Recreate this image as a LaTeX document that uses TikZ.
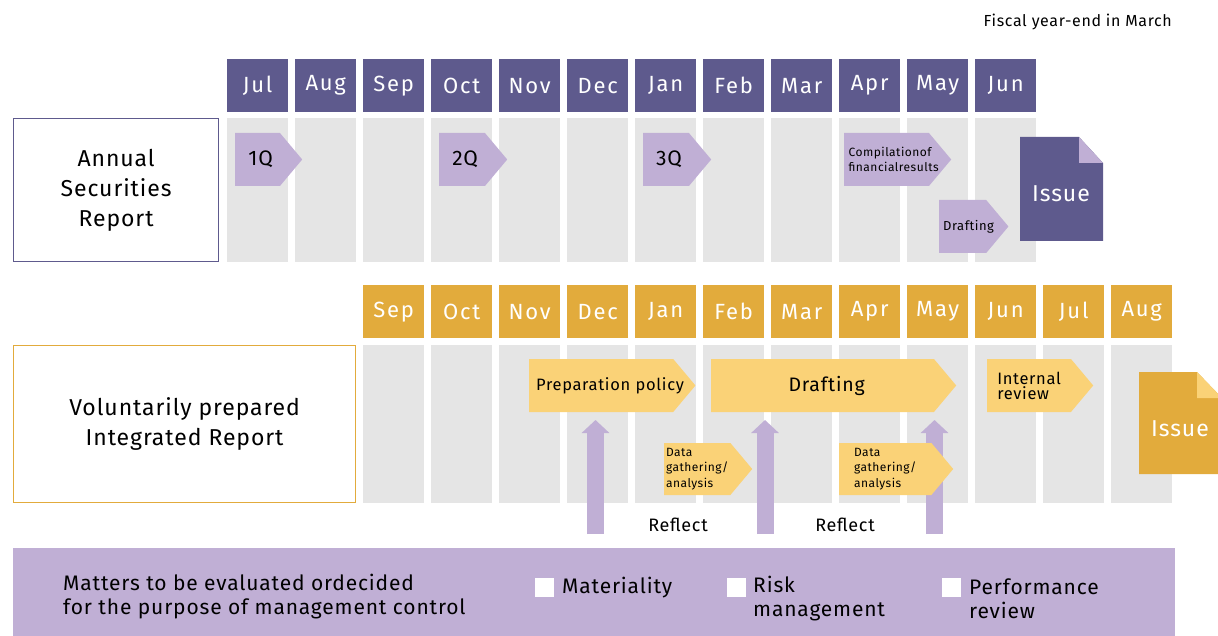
\documentclass[tikz,border=0pt]{standalone}
\usepackage{fontspec}
\setmainfont{Fira Sans}[LetterSpace=4]
\newfontfamily\spacedfont[LetterSpace=8]{Fira Sans}
\usetikzlibrary{shapes.symbols,arrows.meta}

\definecolor{darkpurple}{HTML}{5E5A8D}
\definecolor{lightpurple}{HTML}{C0AFD5}
\definecolor{colgray}{HTML}{E5E5E5}
\definecolor{darkorange}{HTML}{E2AB3C}
\definecolor{lightorange}{HTML}{FAD277}

\begin{document}
\begin{tikzpicture}[x=1pt,y=-1pt,
  month/.style={fill=#1, text=white, minimum width=61pt, minimum height=53pt,
    inner sep=0pt, anchor=north west, font=\spacedfont\fontsize{22}{22}\selectfont},
  stage/.style={signal, signal to=east, signal pointer angle=100, fill=#1,
    inner sep=0pt, minimum height=53pt, anchor=west},
  reflectarrow/.style={lightpurple, line width=17pt,
    -{Triangle[width=27pt,length=13pt]}},
  checkbox/.style={fill=white, minimum size=19pt, inner sep=0pt, anchor=north west},
  bandtext/.style={anchor=west, align=left, inner sep=0pt,
    font=\fontsize{21}{24}\selectfont}]
\useasboundingbox (0,0) rectangle (1218,636);

\node[anchor=east, inner sep=0pt, font=\fontsize{16}{16}\selectfont] (fiscal) at (1172,22) {Fiscal year-end in March};

% annual securities report
\foreach \x in {227,295,...,975}
  \fill[colgray] (\x,118) rectangle ++(61,144);
\node[month=darkpurple] (tjul) at (227,59) {Jul};
\node[month=darkpurple] (taug) at (295,59) {Aug};
\node[month=darkpurple] (tsep) at (363,59) {Sep};
\node[month=darkpurple] (toct) at (431,59) {Oct};
\node[month=darkpurple] (tnov) at (499,59) {Nov};
\node[month=darkpurple] (tdec) at (567,59) {Dec};
\node[month=darkpurple] (tjan) at (635,59) {Jan};
\node[month=darkpurple] (tfeb) at (703,59) {Feb};
\node[month=darkpurple] (tmar) at (771,59) {Mar};
\node[month=darkpurple] (tapr) at (839,59) {Apr};
\node[month=darkpurple] (tmay) at (907,59) {May};
\node[month=darkpurple] (tjun) at (975,59) {Jun};

\node[draw=darkpurple, line width=1.2pt, minimum width=205pt, minimum height=143pt,
  anchor=north west, align=center, font=\fontsize{23}{30}\selectfont] (asr) at (13,118)
  {Annual\\Securities\\Report};

\node[stage=lightpurple, minimum width=67pt, font=\fontsize{21}{21}\selectfont] (q1) at (235,159.5) {\hspace{6pt}1Q};
\node[stage=lightpurple, minimum width=68pt, font=\fontsize{21}{21}\selectfont] (q2) at (439,159.5) {\hspace{6pt}2Q};
\node[stage=lightpurple, minimum width=68pt, font=\fontsize{21}{21}\selectfont] (q3) at (643,159.5) {\hspace{6pt}3Q};
\node[stage=lightpurple, minimum width=107pt, inner xsep=4pt, text width=76pt, align=left,
  font=\fontsize{12}{15}\selectfont] (compile) at (844,159.5) {Compilationof\\financialresults};
\node[stage=lightpurple, minimum width=68pt, inner xsep=4pt, text width=39pt, align=left,
  font=\fontsize{13}{13}\selectfont] (draftA) at (939,226.5) {Drafting};

\fill[darkpurple] (1020,137) -- (1079,137) -- (1103,163) -- (1103,241) -- (1020,241) -- cycle;
\fill[lightpurple] (1079,137) -- (1103,163) -- (1079,163) -- cycle;
\node[text=white, font=\fontsize{23}{23}\selectfont] (issueA) at (1061,194) {Issue};

% integrated report
\foreach \x in {363,431,...,1111}
  \fill[colgray] (\x,345) rectangle ++(61,158);
\node[month=darkorange] (bsep) at (363,285) {Sep};
\node[month=darkorange] (boct) at (431,285) {Oct};
\node[month=darkorange] (bnov) at (499,285) {Nov};
\node[month=darkorange] (bdec) at (567,285) {Dec};
\node[month=darkorange] (bjan) at (635,285) {Jan};
\node[month=darkorange] (bfeb) at (703,285) {Feb};
\node[month=darkorange] (bmar) at (771,285) {Mar};
\node[month=darkorange] (bapr) at (839,285) {Apr};
\node[month=darkorange] (bmay) at (907,285) {May};
\node[month=darkorange] (bjun) at (975,285) {Jun};
\node[month=darkorange] (bjul) at (1043,285) {Jul};
\node[month=darkorange] (baug) at (1111,285) {Aug};

\node[draw=darkorange, line width=1.2pt, minimum width=342pt, minimum height=157pt,
  anchor=north west, align=center, font=\fontsize{23}{30}\selectfont] (vir) at (13,345)
  {Voluntarily prepared\\Integrated Report};

\coordinate (ra1) at (595.5,534);
\coordinate (rb1) at (595.5,420);
\coordinate (ra2) at (765,534);
\coordinate (rb2) at (765,420);
\coordinate (ra3) at (934.5,534);
\coordinate (rb3) at (934.5,420);
\draw[reflectarrow] (ra1) -- (rb1);
\draw[reflectarrow] (ra2) -- (rb2);
\draw[reflectarrow] (ra3) -- (rb3);
\node[font=\fontsize{18}{18}\selectfont] (refl1) at (678,525) {Reflect};
\node[font=\fontsize{18}{18}\selectfont] (refl2) at (845,525) {Reflect};

\node[stage=lightorange, minimum width=166pt, inner xsep=7pt, text width=130pt, align=left,
  font=\fontsize{16.5}{16.5}\selectfont] (policy) at (529,385.5) {\mbox{Preparation policy}};
\node[stage=lightorange, minimum width=245pt, font=\fontsize{19.5}{19.5}\selectfont] (draftB) at (711,385.5) {\hspace{8pt}Drafting};
\node[stage=lightorange, minimum width=88pt, minimum height=52pt, align=left,
  font=\fontsize{12}{15.5}\selectfont] (dataA) at (664,469) {Data\\gathering/\\analysis};
\node[stage=lightorange, minimum width=114pt, minimum height=52pt, align=left,
  font=\fontsize{12}{15.5}\selectfont] (dataB) at (839,469) {Data\\gathering/\\analysis};
\node[stage=lightorange, minimum width=106pt, align=left,
  font=\fontsize{16.5}{15}\selectfont] (review) at (987,385.5) {Internal\\review};

\begin{scope}
\clip (0,0) rectangle (1218,636);
\fill[darkorange] (1139,372) -- (1197,372) -- (1222,398) -- (1222,474) -- (1139,474) -- cycle;
\fill[lightorange] (1197,372) -- (1222,398) -- (1197,398) -- cycle;
\end{scope}
\node[text=white, font=\fontsize{23}{23}\selectfont] (issueB) at (1180,429) {Issue};

% management control band
\fill[lightpurple] (13,548) rectangle (1175,636);
\node[bandtext] (matters) at (63,597) {Matters to be evaluated ordecided\\for the purpose of management control};
\node[checkbox] (cmat) at (535,578) {};
\node[checkbox] (crisk) at (727,578) {};
\node[checkbox] (cperf) at (942,578) {};
\node[bandtext] (lmat) at (562,588) {Materiality};
\node[bandtext] (lrisk) at (753,599) {Risk\\management};
\node[bandtext] (lperf) at (969,599) {Performance\\review};
\end{tikzpicture}
\end{document}
